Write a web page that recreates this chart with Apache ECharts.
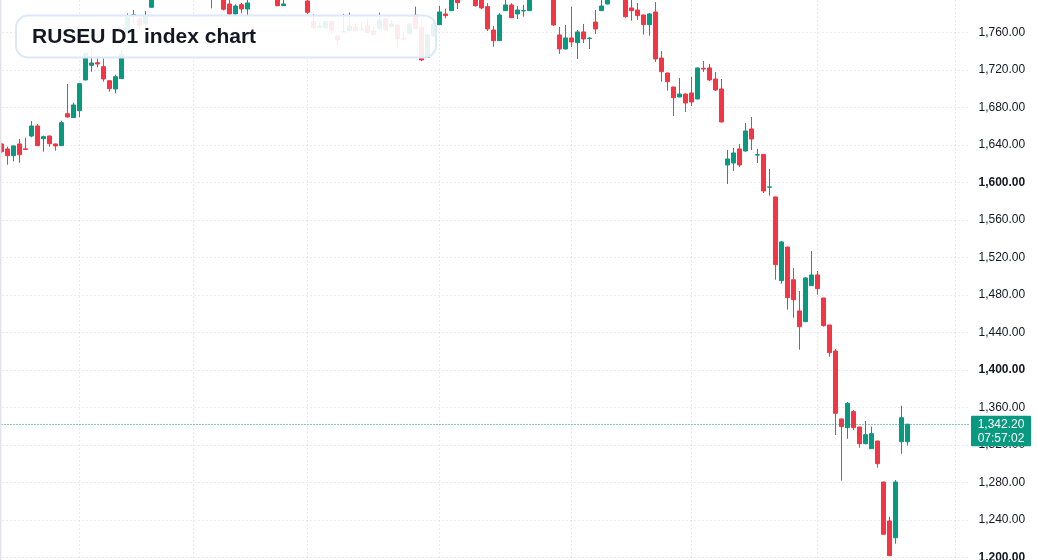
<!DOCTYPE html>
<html>
<head>
<meta charset="utf-8">
<title>RUSEU D1 index chart</title>
<script src="https://cdn.jsdelivr.net/npm/echarts@6/dist/echarts.min.js"></script>
<style>
  html, body { margin: 0; padding: 0; background: #fff; }
  #chart { width: 1037px; height: 560px; }
</style>
</head>
<body>
<div id="chart"></div>
<script>
// daily candles, oldest first (values above ~1795 are off the top of the view)
const opens = [
  1641.1, 1635.8, 1628.6, 1641.1, 1635.9, 1649.6, 1660.3, 1646.7, 1649.6, 1641.1,
  1639.3, 1673.4, 1669.2, 1676.6, 1709.4, 1725.0, 1727.8, 1723.6, 1708.6, 1699.8,
  1710.8, 1759.2, 1778.2, 1775.2, 1769.1, 1786.9, 1802, 1811, 1806, 1818,
  1824, 1815, 1809, 1820, 1813, 1804, 1798, 1805, 1790.4, 1779.8,
  1789.7, 1785.1, 1797, 1806, 1812, 1805, 1799, 1788.6, 1797, 1808,
  1803, 1793.6, 1771.6, 1765.6, 1765.2, 1771.6, 1756.3, 1760.5, 1762.0, 1765.6,
  1763.2, 1767.0, 1761.6, 1764.1, 1774.4, 1766.3, 1768.0, 1753.9, 1758.8, 1778.4,
  1765.6, 1733.6, 1756.3, 1768.4, 1779.8, 1783.3, 1799, 1799, 1808, 1803,
  1797, 1787.6, 1762.7, 1751.3, 1783.3, 1789.4, 1779.8, 1783.0, 1783.3, 1798,
  1807, 1801, 1809, 1757.4, 1742.4, 1754.2, 1749.2, 1760.6, 1753.5, 1771.2,
  1783.3, 1790.4, 1799, 1810, 1804, 1786.2, 1784.0, 1778.7, 1768.4, 1781.9,
  1732.8, 1716.8, 1701.9, 1691.2, 1694.4, 1695.5, 1689.1, 1721.9, 1722.2, 1710.4,
  1699.8, 1618.7, 1620.8, 1635.8, 1633.6, 1657.1, 1629.3, 1630.0, 1595.0, 1584.6,
  1495.3, 1531.2, 1496.3, 1463.0, 1451.6, 1490.0, 1501.4, 1476.8, 1448.0, 1420.3,
  1347.8, 1338.5, 1355.6, 1339.2, 1321.4, 1316.1, 1324.3, 1280.5, 1239.0, 1221.1,
  1323.5, 1323.5
];
const closes = [
  1632.9, 1628.6, 1639.0, 1629.6, 1635.2, 1660.3, 1639.3, 1648.9, 1641.4, 1639.0,
  1663.8, 1669.9, 1682.7, 1705.4, 1737.6, 1727.5, 1726.4, 1710.4, 1700.1, 1712.9,
  1737.1, 1776.2, 1779.0, 1768.0, 1777.6, 1802, 1811, 1806, 1818, 1824,
  1815, 1809, 1820, 1813, 1804, 1798, 1805, 1784.8, 1779.8, 1788.3,
  1785.1, 1791.5, 1806, 1812, 1805, 1799, 1788.6, 1790.4, 1808, 1803,
  1798, 1781.6, 1765.2, 1767.0, 1771.6, 1762.0, 1752.0, 1760.9, 1767.0, 1762.0,
  1763.7, 1759.8, 1757.7, 1773.4, 1763.0, 1769.1, 1753.4, 1752.8, 1769.1, 1764.1,
  1730.7, 1757.7, 1769.1, 1781.9, 1778.0, 1800, 1791.8, 1808, 1803, 1788.6,
  1786.2, 1763.8, 1751.3, 1778.7, 1789.4, 1775.8, 1784.0, 1783.5, 1798, 1807,
  1801, 1809, 1768.0, 1742.4, 1754.2, 1749.9, 1760.6, 1753.1, 1754.0, 1763.8,
  1788.3, 1799, 1810, 1804, 1776.9, 1783.3, 1778.0, 1768.4, 1779.8, 1731.8,
  1718.2, 1707.6, 1690.5, 1694.4, 1684.8, 1685.9, 1722.2, 1721.0, 1709.4, 1698.7,
  1664.6, 1625.1, 1631.5, 1618.7, 1655.0, 1646.4, 1629.6, 1591.0, 1595.3, 1512.4,
  1536.6, 1477.2, 1475.0, 1446.2, 1498.2, 1501.4, 1486.8, 1447.3, 1418.5, 1353.8,
  1339.6, 1364.5, 1338.5, 1321.4, 1331.0, 1332.1, 1300.1, 1224.8, 1202.0, 1280.5,
  1349.1, 1342.2
];
const lows = [
  1631.5, 1619.0, 1622.6, 1621.0, 1635.0, 1648.3, 1639.0, 1632.9, 1638.2, 1634.0,
  1639.0, 1669.5, 1669.0, 1669.6, 1709.0, 1718.2, 1722.9, 1707.6, 1696.9, 1695.2,
  1710.5, 1759.0, 1770.5, 1763.4, 1764.5, 1786.5, 1799, 1801, 1803, 1812,
  1809, 1804, 1805, 1807, 1800, 1785.8, 1797, 1783.5, 1778.0, 1778.0,
  1780.5, 1778.0, 1796, 1801, 1800, 1796.5, 1788.0, 1788.3, 1796, 1799,
  1796, 1779.8, 1763.5, 1764.5, 1764.5, 1759.2, 1746.7, 1759.5, 1761.5, 1761.5,
  1761.8, 1759.5, 1757.5, 1763.5, 1762.0, 1765.5, 1742.8, 1752.0, 1758.5, 1763.5,
  1729.6, 1733.0, 1756.0, 1768.0, 1775.2, 1783.0, 1785.1, 1797, 1798, 1787.6,
  1785.1, 1761.6, 1744.9, 1751.0, 1783.0, 1775.5, 1774.4, 1776.9, 1783.0, 1796,
  1797, 1798, 1767.0, 1737.1, 1742.0, 1744.6, 1731.8, 1748.8, 1742.4, 1758.4,
  1783.0, 1790.0, 1797, 1799, 1775.8, 1772.6, 1773.4, 1757.7, 1756.6, 1728.6,
  1707.6, 1698.0, 1671.0, 1691.0, 1675.2, 1681.6, 1689.0, 1717.9, 1708.3, 1697.6,
  1664.0, 1598.4, 1612.3, 1616.6, 1633.0, 1634.7, 1620.8, 1588.8, 1586.0, 1496.3,
  1492.1, 1464.4, 1455.8, 1421.7, 1451.0, 1490.0, 1480.4, 1446.2, 1414.2, 1330.7,
  1282.0, 1326.7, 1336.0, 1317.1, 1320.7, 1316.0, 1295.8, 1224.5, 1201.5, 1214.7,
  1310.7, 1319.3
];
const highs = [
  1642.5, 1638.2, 1639.5, 1646.4, 1647.8, 1665.6, 1662.4, 1650.0, 1650.0, 1641.5,
  1666.0, 1705.1, 1685.2, 1706.0, 1738.0, 1741.9, 1732.5, 1732.5, 1709.0, 1715.0,
  1741.4, 1780.5, 1784.0, 1776.0, 1783.0, 1806, 1815, 1816, 1822, 1829,
  1827, 1819, 1824, 1823, 1816, 1808, 1809, 1807, 1796, 1790.0,
  1791.5, 1797, 1810, 1817, 1815, 1808, 1801, 1797, 1812, 1813,
  1806, 1797, 1779.8, 1771.6, 1772.6, 1772.6, 1757.0, 1779.8, 1781.2, 1770.5,
  1770.5, 1774.8, 1766.3, 1781.2, 1775.2, 1773.4, 1768.5, 1760.9, 1769.5, 1787.6,
  1774.4, 1758.0, 1773.4, 1788.3, 1785.4, 1804, 1802, 1812, 1811, 1805,
  1800, 1791.2, 1767.0, 1780.5, 1797, 1791.2, 1788.3, 1789.4, 1802, 1811,
  1810, 1813, 1812, 1765.9, 1768.0, 1787.6, 1762.7, 1769.1, 1755.2, 1784.0,
  1796, 1803, 1814, 1815, 1807, 1797, 1791.5, 1779.0, 1780.8, 1792.6,
  1740.3, 1717.0, 1702.0, 1711.5, 1695.0, 1712.6, 1722.5, 1729.6, 1726.5, 1717.9,
  1710.4, 1634.7, 1636.8, 1641.1, 1663.5, 1669.9, 1635.8, 1630.4, 1614.4, 1585.0,
  1537.6, 1531.5, 1508.9, 1484.3, 1499.2, 1527.0, 1505.6, 1477.0, 1448.3, 1422.4,
  1348.0, 1365.9, 1357.3, 1339.5, 1345.6, 1339.6, 1324.5, 1281.0, 1243.5, 1282.6,
  1361.9, 1342.5
];

// empty slots on the right of the last candle
const slotCount = 162;
const days = Array.from({ length: slotCount }, (_, i) => String(i));
// month boundaries (candle index)
const monthStarts = [13, 32, 51, 73, 95, 115, 136, 159];

const lastPrice = closes[closes.length - 1];
const lastTime = '07:57:02';
const yTicks = { min: 1200, max: 1840, step: 40 };

const UP = '#089981';
const DOWN = '#F23645';
const GRID = '#d3d6dd';
const FONT = '"Liberation Sans", Arial, sans-serif';

function fmt(v) {
  return v.toFixed(2).replace(/\B(?=(\d{3})+(?!\d))/g, ',');
}

const candles = opens.map((o, i) => [o, closes[i], lows[i], highs[i]]);

const chart = echarts.init(document.getElementById('chart'));

const option = {
  animation: false,
  backgroundColor: '#fff',
  grid: {
    left: -1.5,
    right: 66.5,
    top: -42.5,
    bottom: 2.5,
    containLabel: false,
    outerBoundsMode: 'none',
  },
  xAxis: {
    type: 'category',
    data: days,
    boundaryGap: true,
    axisLine: { show: false },
    axisTick: { show: false },
    axisLabel: { show: false },
    splitLine: { show: false },
  },
  yAxis: {
    type: 'value',
    position: 'right',
    min: yTicks.min,
    max: yTicks.max,
    interval: yTicks.step,
    axisLine: { show: false },
    axisTick: { show: false },
    axisLabel: {
      margin: 8,
      color: '#131722',
      fontSize: 12,
      fontFamily: FONT,
      formatter: function (v) {
        // every 200 is bold
        return v % 200 === 0 ? '{b|' + fmt(v) + '}' : fmt(v)
      },
      rich: {
        b: { fontWeight: 'bold', fontSize: 12, color: '#131722', fontFamily: FONT },
      },
    },
    splitLine: {
      show: true,
      lineStyle: { color: GRID, type: [1, 3], width: 1 },
    },
  },
  series: [
    {
      // vertical month lines, under the candles
      name: 'months',
      type: 'line',
      data: [],
      silent: true,
      markLine: {
        z: 1,
        silent: true,
        symbol: ['none', 'none'],
        label: { show: false },
        lineStyle: { color: GRID, type: [1, 3], width: 1 },
        data: monthStarts.map((d) => ({ xAxis: d })),
      },
    },
    {
      name: 'RUSEU',
      type: 'candlestick',
      data: candles,
      barWidth: 4,
      itemStyle: {
        color: UP,
        color0: DOWN,
        borderColor: UP,
        borderColor0: DOWN,
        borderWidth: 1,
      },
      markLine: {
        silent: true,
        symbol: ['none', 'none'],
        label: { show: false },
        lineStyle: { color: UP, type: [1, 2], width: 1 },
        data: [{ yAxis: lastPrice }],
      },
    },
  ],
};

chart.setOption(option);

// overlays: left frame edge, title box, last price tag
const py = chart.convertToPixel({ yAxisIndex: 0 }, lastPrice);
chart.setOption({
  graphic: {
    elements: [
      {
        type: 'rect',
        z: 50,
        shape: { x: 0, y: 0, width: 1.5, height: 560 },
        style: { fill: '#e3e5ea' },
      },
      {
        type: 'rect',
        z: 100,
        shape: { x: 16, y: 15.5, width: 420, height: 42, r: 12 },
        style: { fill: 'rgba(255,255,255,0.9)', stroke: '#dbe7fb', lineWidth: 2 },
      },
      {
        type: 'text',
        z: 101,
        x: 32,
        y: 37,
        style: {
          text: 'RUSEU D1 index chart',
          fill: '#131722',
          font: 'bold 21px ' + FONT,
          verticalAlign: 'middle',
        },
      },
      {
        type: 'rect',
        z: 110,
        shape: { x: 971, y: py - 8.5, width: 60, height: 30.5, r: 1 },
        style: { fill: UP },
      },
      {
        type: 'text',
        z: 111,
        x: 1001,
        y: py,
        style: {
          text: fmt(lastPrice),
          fill: '#fff',
          font: '12px ' + FONT,
          align: 'center',
          verticalAlign: 'middle',
        },
      },
      {
        type: 'text',
        z: 111,
        x: 1001,
        y: py + 14,
        style: {
          text: lastTime,
          fill: '#fff',
          font: '12px ' + FONT,
          align: 'center',
          verticalAlign: 'middle',
        },
      },
    ],
  },
});

window.addEventListener('resize', function () {
  chart.resize();
});
</script>
</body>
</html>
